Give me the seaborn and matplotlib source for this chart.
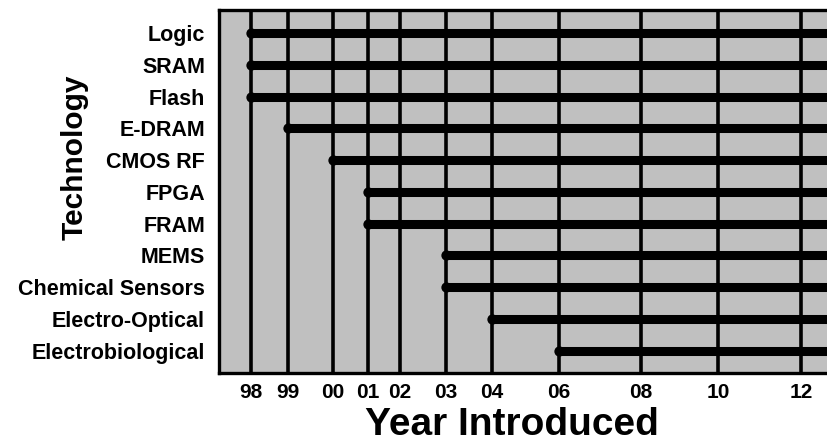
import numpy as np
import pandas as pd
import matplotlib
matplotlib.use("Agg")
import matplotlib.pyplot as plt
import seaborn as sns

# data
technologies = ["Logic", "SRAM", "Flash", "E-DRAM", "CMOS RF", "FPGA", "FRAM",
                "MEMS", "Chemical Sensors", "Electro-Optical", "Electrobiological"]
start_years = [1998, 1998, 1998, 1999, 2000, 2001, 2001, 2003, 2003, 2004, 2006]
end_years = [2014] * len(technologies)  # all run off the right edge

tick_years = [1998, 1999, 2000, 2001, 2002, 2003, 2004, 2006, 2008, 2010, 2012]
tick_labels = ["98", "99", "00", "01", "02", "03", "04", "06", "08", "10", "12"]

# the original year axis is drawn unevenly; mimic it with a piecewise scale
knot_years = [1996] + tick_years + [2014]
knot_px = [176.7, 250.7, 287.7, 332.7, 367.7, 400.0, 446.0, 491.7,
           558.7, 641.0, 718.3, 801.0, 884.0]


def fwd(x):
    return np.interp(x, knot_years, knot_px)


def inv(p):
    return np.interp(p, knot_px, knot_years)


def main():
    sns.set_style("white")
    plt.rcParams["font.family"] = ["Liberation Sans", "DejaVu Sans"]
    plt.rcParams["font.weight"] = "bold"
    plt.rcParams["text.color"] = "black"
    plt.rcParams["xtick.color"] = "black"
    plt.rcParams["ytick.color"] = "black"
    plt.rcParams["axes.labelcolor"] = "black"

    rows = []
    for i, (t, s, e) in enumerate(zip(technologies, start_years, end_years)):
        rows.append({"tech": t, "year": s, "row": i})
        rows.append({"tech": t, "year": e, "row": i})
    df = pd.DataFrame(rows)
    starts = pd.DataFrame({"tech": technologies, "year": start_years,
                           "row": range(len(technologies))})

    W, H = 828, 443
    fig = plt.figure(figsize=(W / 100, H / 100), dpi=100)
    left_px, right_px, top_px, bot_px = 219, 853, 10, 373.3
    ax = fig.add_axes([left_px / W, 1 - bot_px / H,
                       (right_px - left_px) / W, (bot_px - top_px) / H])
    ax.set_facecolor("#c0c0c0")
    ax.set_xscale("function", functions=(fwd, inv))

    sns.lineplot(data=df, x="year", y="row", units="tech", estimator=None,
                 sort=False, color="black", linewidth=6.5,
                 solid_capstyle="round", legend=False, ax=ax, zorder=3)
    sns.scatterplot(data=starts, x="year", y="row", color="black", s=55,
                    linewidth=0, legend=False, ax=ax, zorder=4)

    n = len(technologies)
    ax.set_xlim(inv(left_px), inv(right_px))
    ax.set_ylim(n - 1 + 0.71, -0.73)

    ax.set_xticks(tick_years, tick_labels)
    ax.set_yticks(range(n), technologies)
    ax.xaxis.set_minor_locator(plt.NullLocator())
    ax.tick_params(axis="x", length=0, pad=7, labelsize=15)
    ax.tick_params(axis="y", length=0, pad=10, labelsize=15.5)
    for lab in ax.get_xticklabels() + ax.get_yticklabels():
        lab.set_fontweight("bold")

    ax.grid(axis="x", color="black", linewidth=2.6)
    ax.grid(axis="y", visible=False)
    ax.set_axisbelow(True)
    for sp in ax.spines.values():
        sp.set_color("black")
        sp.set_linewidth(2.4)

    ax.set_xlabel("Year Introduced", fontsize=28, fontweight="bold")
    ax.xaxis.set_label_coords(511.5 / W, 1 - 435 / H, transform=fig.transFigure)
    ax.xaxis.label.set(ha="center", va="baseline")

    ax.set_ylabel("Technology", fontsize=21.5, fontweight="bold")
    ax.yaxis.set_label_coords(83 / W, 1 - 157 / H, transform=fig.transFigure)
    ax.yaxis.label.set(ha="center", va="baseline", rotation_mode="anchor")

    fig.savefig("out.png", dpi=100)


if __name__ == "__main__":
    main()
